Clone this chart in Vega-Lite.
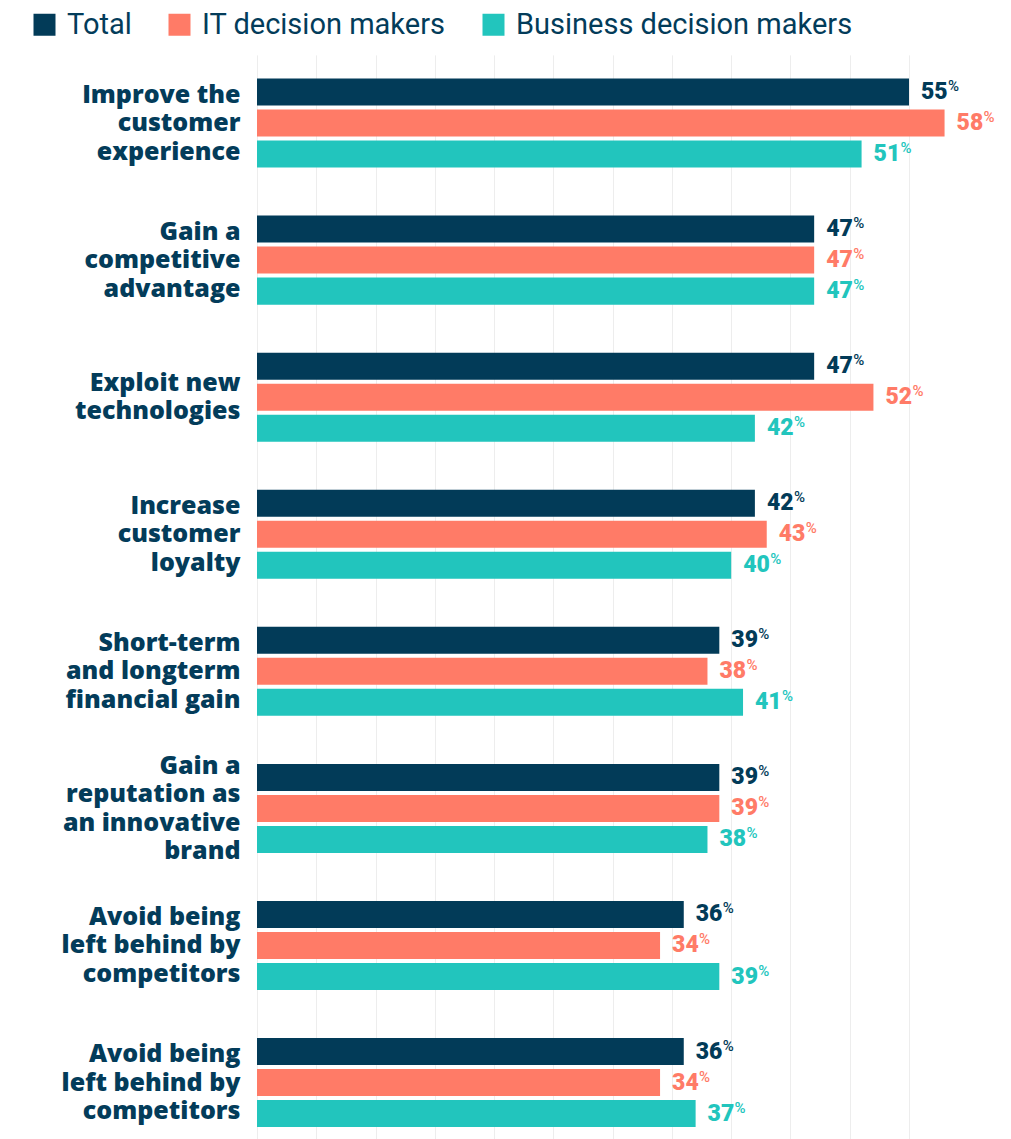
{
  "$schema": "https://vega.github.io/schema/vega-lite/v6.json",
  "width": 652,
  "height": 1072,
  "autosize": {"type": "none"},
  "padding": {"left": 257, "top": 67, "right": 102, "bottom": 0},
  "background": "white",
  "config": {
    "view": {"stroke": null},
    "font": "Roboto"
  },
  "data": {
    "values": [
      {"cat": "1 Improve the|customer|experience", "series": "Total", "value": 55},
      {"cat": "1 Improve the|customer|experience", "series": "IT decision makers", "value": 58},
      {"cat": "1 Improve the|customer|experience", "series": "Business decision makers", "value": 51},
      {"cat": "2 Gain a|competitive|advantage", "series": "Total", "value": 47},
      {"cat": "2 Gain a|competitive|advantage", "series": "IT decision makers", "value": 47},
      {"cat": "2 Gain a|competitive|advantage", "series": "Business decision makers", "value": 47},
      {"cat": "3 Exploit new|technologies", "series": "Total", "value": 47},
      {"cat": "3 Exploit new|technologies", "series": "IT decision makers", "value": 52},
      {"cat": "3 Exploit new|technologies", "series": "Business decision makers", "value": 42},
      {"cat": "4 Increase|customer|loyalty", "series": "Total", "value": 42},
      {"cat": "4 Increase|customer|loyalty", "series": "IT decision makers", "value": 43},
      {"cat": "4 Increase|customer|loyalty", "series": "Business decision makers", "value": 40},
      {"cat": "5 Short-term|and longterm|financial gain", "series": "Total", "value": 39},
      {"cat": "5 Short-term|and longterm|financial gain", "series": "IT decision makers", "value": 38},
      {"cat": "5 Short-term|and longterm|financial gain", "series": "Business decision makers", "value": 41},
      {"cat": "6 Gain a|reputation as|an innovative|brand", "series": "Total", "value": 39},
      {"cat": "6 Gain a|reputation as|an innovative|brand", "series": "IT decision makers", "value": 39},
      {"cat": "6 Gain a|reputation as|an innovative|brand", "series": "Business decision makers", "value": 38},
      {"cat": "7 Avoid being|left behind by|competitors", "series": "Total", "value": 36},
      {"cat": "7 Avoid being|left behind by|competitors", "series": "IT decision makers", "value": 34},
      {"cat": "7 Avoid being|left behind by|competitors", "series": "Business decision makers", "value": 39},
      {"cat": "8 Avoid being|left behind by|competitors", "series": "Total", "value": 36},
      {"cat": "8 Avoid being|left behind by|competitors", "series": "IT decision makers", "value": 34},
      {"cat": "8 Avoid being|left behind by|competitors", "series": "Business decision makers", "value": 37}
    ]
  },
  "encoding": {
    "y": {
      "field": "cat",
      "type": "nominal",
      "sort": null,
      "scale": {"paddingInner": 0, "paddingOuter": 0, "range": [-12.5, 1084.1]},
      "axis": {
        "title": null,
        "ticks": false,
        "domain": false,
        "grid": false,
        "labelPadding": 17,
        "labelFont": "Open Sans",
        "labelFontSize": 25,
        "labelFontWeight": 800,
        "labelColor": "#033c5a",
        "labelLineHeight": 28.5,
        "labelLimit": 300,
        "labelOffset": {"expr": "-(length(split(datum.value, '|')) - 1) * 14.25"},
        "labelExpr": "split(slice(datum.label, 2), '|')"
      }
    },
    "yOffset": {
      "field": "series",
      "type": "nominal",
      "sort": ["Total", "IT decision makers", "Business decision makers"],
      "scale": {"paddingInner": 0.129, "paddingOuter": 0.774}
    },
    "x": {
      "field": "value",
      "type": "quantitative",
      "scale": {"domain": [0, 55], "nice": false},
      "axis": {
        "title": null,
        "labels": false,
        "ticks": false,
        "domain": false,
        "grid": true,
        "gridColor": "#ededed",
        "gridWidth": 1,
        "values": [0, 5, 10, 15, 20, 25, 30, 35, 40, 45, 50, 55]
      }
    }
  },
  "layer": [
    {
      "mark": {"type": "bar", "clip": false},
      "encoding": {
        "color": {
          "field": "series",
          "type": "nominal",
          "scale": {
            "domain": ["Total", "IT decision makers", "Business decision makers"],
            "range": ["#023b58", "#ff7b67", "#22c5bd"]
          },
          "legend": {
            "title": null,
            "orient": "none",
            "direction": "horizontal",
            "legendX": -227,
            "legendY": -57,
            "padding": 0,
            "symbolType": "square",
            "symbolSize": 484,
            "symbolStrokeWidth": 0,
            "symbolOpacity": 1,
            "labelFontSize": 29,
            "labelFont": "Roboto",
            "labelColor": "#033c5a",
            "labelOffset": 8,
            "columnPadding": 33,
            "labelLimit": 400
          }
        }
      }
    },
    {
      "mark": {"type": "text", "align": "left", "baseline": "middle", "dx": 12, "fontSize": 23, "fontWeight": 900, "font": "Roboto"},
      "encoding": {
        "text": {"field": "value", "type": "quantitative"},
        "color": {"field": "series", "type": "nominal", "legend": null}
      }
    },
    {
      "mark": {"type": "text", "align": "left", "baseline": "middle", "dx": 39, "dy": -6, "fontSize": 15, "fontWeight": 500, "font": "Roboto", "text": "%"},
      "encoding": {
        "color": {"field": "series", "type": "nominal", "legend": null}
      }
    }
  ]
}
